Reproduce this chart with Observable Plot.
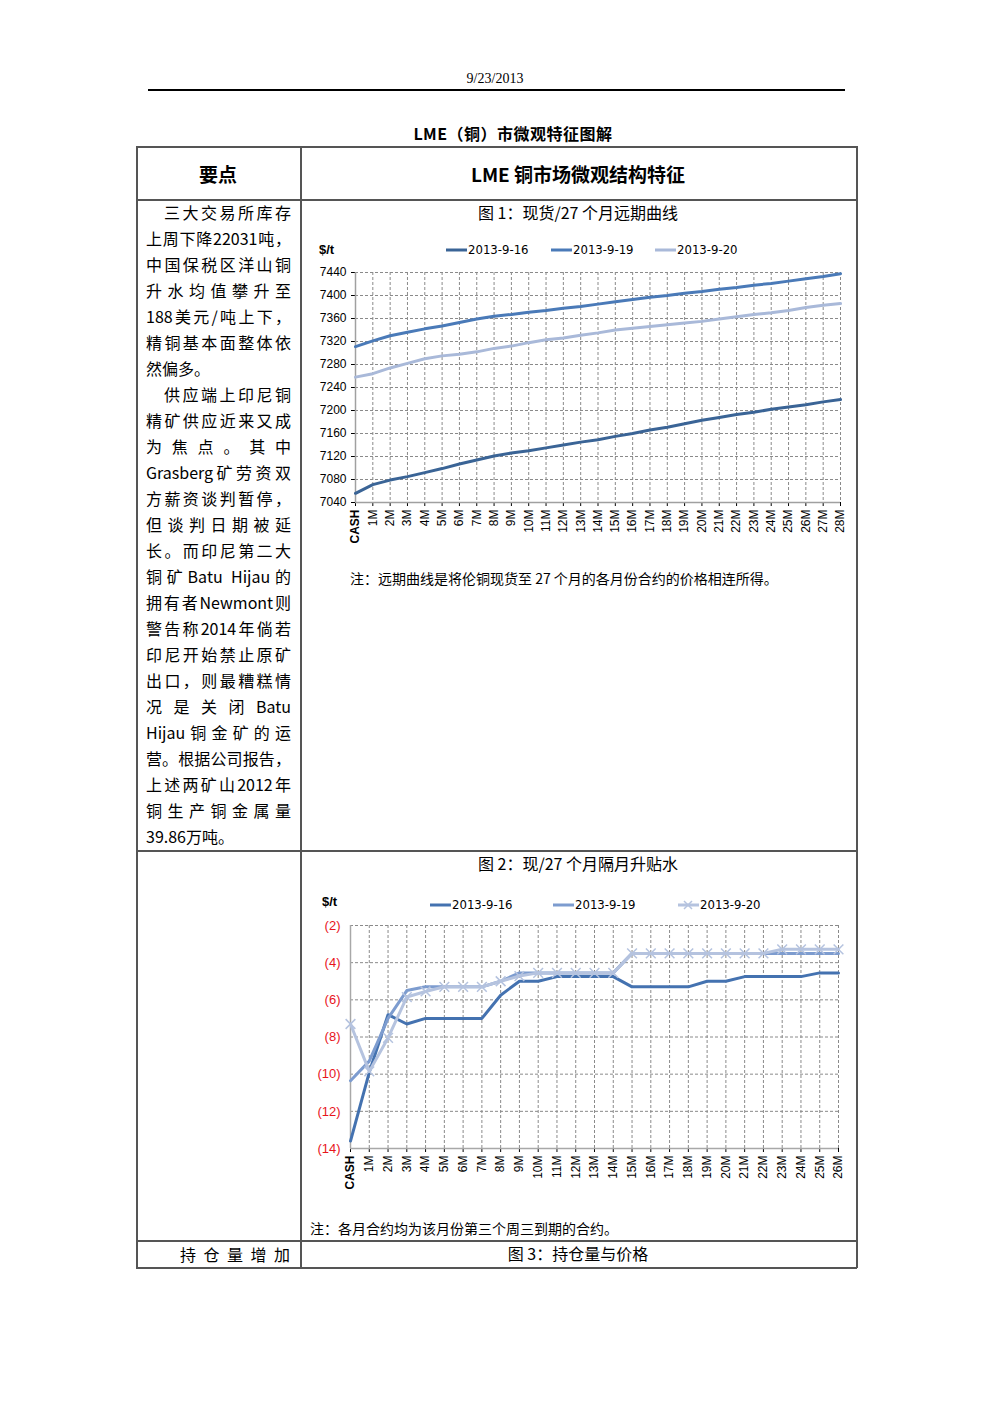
<!DOCTYPE html>
<html><head><meta charset="utf-8">
<script src="https://cdn.jsdelivr.net/npm/d3@7"></script>
<script src="https://cdn.jsdelivr.net/npm/@observablehq/plot@0.6"></script>
<style>
body{margin:0;background:#fff;font-family:"Noto Sans CJK SC","Noto Sans",sans-serif;color:#000;}
#page{position:relative;width:992px;height:1403px;overflow:hidden;background:#fff;}
.a{position:absolute;white-space:nowrap;}
.ln{position:absolute;background:#555;}
.c{transform:translate(-50%,-50%);}
.body{position:absolute;left:146px;top:199px;width:145px;font-size:16px;line-height:26px;}
.body div{text-align:justify;text-align-last:justify;white-space:nowrap;height:26px;}
.body div.l{text-align-last:left;}
.body div.ind{padding-left:18px;}
.leg{position:absolute;font-family:"Liberation Sans Narrow","DejaVu Sans Condensed","Liberation Sans",sans-serif;font-size:13px;line-height:14px;display:flex;align-items:center;}
#c2 g[aria-label^="y-axis"] text{fill:#e8141c;}
</style></head>
<body><div id="page">
<div class="a c" style="left:495px;top:79px;font-family:'Liberation Serif',serif;font-size:14px;">9/23/2013</div>
<div class="ln" style="left:148px;top:89px;width:697px;height:1.5px;background:#000;"></div>
<div class="a c" style="left:513px;top:133px;font-size:16px;font-weight:bold;letter-spacing:0.5px;">LME（铜）市微观特征图解</div>

<!-- table lines -->
<div class="ln" style="left:136px;top:146px;width:721px;height:1.5px;"></div>
<div class="ln" style="left:136px;top:199px;width:721px;height:1.5px;"></div>
<div class="ln" style="left:136px;top:850px;width:721px;height:1.5px;"></div>
<div class="ln" style="left:136px;top:1240px;width:721px;height:1.5px;"></div>
<div class="ln" style="left:136px;top:1267px;width:721px;height:1.5px;"></div>
<div class="ln" style="left:136px;top:146px;width:1.5px;height:1122px;"></div>
<div class="ln" style="left:300px;top:146px;width:1.5px;height:1122px;"></div>
<div class="ln" style="left:856px;top:146px;width:1.5px;height:1122px;"></div>

<div class="a c" style="left:218px;top:173px;font-size:19px;font-weight:bold;">要点</div>
<div class="a c" style="left:578px;top:173px;font-size:19px;font-weight:bold;">LME 铜市场微观结构特征</div>

<div class="body" id="bodytext"></div>

<div class="a c" style="left:578px;top:212px;font-size:16px;">图 1：现货/27 个月远期曲线</div>
<div class="a" style="left:319px;top:242px;font-family:'Liberation Sans',sans-serif;font-size:13px;font-weight:bold;">$/t</div>
<div id="leg1"></div>
<div id="c1" class="a" style="left:300px;top:262px;"></div>
<div class="a" style="left:350px;top:568px;font-size:14px;">注：远期曲线是将伦铜现货至 27 个月的各月份合约的价格相连所得。</div>

<div class="a c" style="left:578px;top:863px;font-size:16px;">图 2：现/27 个月隔月升贴水</div>
<div class="a" style="left:322px;top:894px;font-family:'Liberation Sans',sans-serif;font-size:13px;font-weight:bold;">$/t</div>
<div id="leg2"></div>
<div id="c2" class="a" style="left:300px;top:915px;"></div>
<div class="a" style="left:310px;top:1218px;font-size:14px;">注：各月合约均为该月份第三个周三到期的合约。</div>

<div class="a" style="left:180px;top:1243px;width:110px;font-size:16px;line-height:22px;text-align:justify;text-align-last:justify;">持仓量增加</div>
<div class="a c" style="left:578px;top:1253px;font-size:16px;">图 3：持仓量与价格</div>
</div>
<script>
// ---------- text ----------
const bodyLines = [
 ["三大交易所库存","ind"],["上周下降22031吨，",""],["中国保税区洋山铜",""],["升水均值攀升至",""],
 ["188美元/吨上下，",""],["精铜基本面整体依",""],["然偏多。","l"],
 ["供应端上印尼铜","ind"],["精矿供应近来又成",""],["为焦点。其中",""],["Grasberg矿劳资双",""],
 ["方薪资谈判暂停，",""],["但谈判日期被延",""],["长。而印尼第二大",""],["铜矿Batu Hijau的",""],
 ["拥有者Newmont则",""],["警告称2014年倘若",""],["印尼开始禁止原矿",""],["出口，则最糟糕情",""],
 ["况是关闭Batu",""],["Hijau铜金矿的运",""],["营。根据公司报告，",""],["上述两矿山2012年",""],
 ["铜生产铜金属量",""],["39.86万吨。","l"]
];
const bt = document.getElementById("bodytext");
bodyLines.forEach(([t,c])=>{const d=document.createElement("div");d.textContent=t;if(c)d.className=c;
  if(t==="为焦点。其中"||t==="况是关闭Batu"){d.style.whiteSpace="normal";d.style.wordBreak="break-all";}
  bt.appendChild(d);});

// ---------- data ----------
const series = ["2013-9-16","2013-9-19","2013-9-20"];
const months1 = ["CASH","1M","2M","3M","4M","5M","6M","7M","8M","9M","10M","11M","12M","13M","14M","15M","16M","17M","18M","19M","20M","21M","22M","23M","24M","25M","26M","27M","28M"];
const curve0916 = [7056,7071,7079,7085,7092,7099,7107,7114,7121,7126,7130,7135,7140,7145,7149,7155,7160,7166,7171,7177,7183,7188,7193,7197,7202,7206,7210,7215,7219];
const curve0919 = [7311,7321,7330,7336,7342,7347,7353,7359,7364,7367,7371,7374,7378,7381,7385,7389,7393,7397,7400,7404,7407,7411,7414,7418,7421,7425,7429,7433,7438];
const curve0920 = [7258,7264,7274,7282,7290,7295,7298,7302,7308,7312,7318,7323,7326,7331,7335,7340,7343,7346,7349,7352,7355,7359,7363,7367,7370,7374,7379,7383,7386];
const yTicks1 = [7040,7080,7120,7160,7200,7240,7280,7320,7360,7400,7440];

const months2 = ["CASH","1M","2M","3M","4M","5M","6M","7M","8M","9M","10M","11M","12M","13M","14M","15M","16M","17M","18M","19M","20M","21M","22M","23M","24M","25M","26M"];
const spread0916 = [-13.6,-9.9,-6.8,-7.3,-7.0,-7.0,-7.0,-7.0,-5.75,-5.0,-5.0,-4.75,-4.75,-4.75,-4.75,-5.3,-5.3,-5.3,-5.3,-5.0,-5.0,-4.75,-4.75,-4.75,-4.75,-4.55,-4.55];
const spread0919 = [-10.35,-9.3,-7.0,-5.5,-5.3,-5.3,-5.3,-5.3,-5.0,-4.55,-4.55,-4.55,-4.55,-4.55,-4.55,-3.5,-3.5,-3.5,-3.5,-3.5,-3.5,-3.5,-3.5,-3.5,-3.5,-3.5,-3.5];
const spread0920 = [-7.3,-9.85,-8.05,-5.85,-5.55,-5.3,-5.3,-5.3,-5.0,-4.72,-4.55,-4.55,-4.55,-4.55,-4.55,-3.5,-3.5,-3.5,-3.5,-3.5,-3.5,-3.5,-3.5,-3.28,-3.28,-3.28,-3.28];
const yTicks2 = [-2,-4,-6,-8,-10,-12,-14];

const colors1 = ["#3a6496","#4a7ab8","#a9b9d9"];
const colors2 = ["#4472b0","#7d9ccf","#b5c3df"];

function build(arrs){return arrs.flatMap((a,k)=>a.map((v,i)=>({i,v,s:series[k]})));}
const data1 = build([curve0916,curve0919,curve0920]);
const data2 = build([spread0916,spread0919,spread0920]);
const idx1 = months1.map((_,i)=>i);
const idx2 = months2.map((_,i)=>i);

const grid = {stroke:"#8a8a8a", strokeDasharray:"3,2", strokeWidth:1};
const font = "'Liberation Sans',Arial,sans-serif";

const c1 = Plot.plot({
  width:550, height:290, marginLeft:55, marginRight:10, marginTop:10, marginBottom:50,
  style:{fontSize:"12px", fontFamily:font, color:"#000", background:"transparent", overflow:"visible"},
  x:{type:"linear", domain:[0, months1.length-1], ticks:idx1, tickFormat:i=>months1[i], tickRotate:-90, tickSize:4, tickPadding:3, label:null},
  y:{domain:[7040,7440], ticks:yTicks1, tickSize:4, tickPadding:5, label:null, tickFormat:d=>String(d)},
  color:{domain:series, range:colors1},
  marks:[
    Plot.ruleY(yTicks1.slice(1), grid),
    Plot.ruleX(idx1.slice(1), grid),
    Plot.ruleX([0], {stroke:"#a0a0a0", strokeWidth:1.5}),
    Plot.ruleY([7040], {stroke:"#a0a0a0", strokeWidth:1.5}),
    Plot.line(data1, {x:"i", y:"v", z:"s", stroke:"s", strokeWidth:3, strokeLinejoin:"round"})
  ]
});
document.getElementById("c1").appendChild(c1);

const c2 = Plot.plot({
  width:550, height:285, marginLeft:50, marginRight:12, marginTop:10, marginBottom:52,
  style:{fontSize:"12px", fontFamily:font, color:"#000", background:"transparent", overflow:"visible"},
  x:{type:"linear", domain:[0, months2.length-1], ticks:idx2, tickFormat:i=>months2[i], tickRotate:-90, tickSize:4, tickPadding:3, label:null},
  y:{domain:[-14,-2], ticks:yTicks2, tickSize:0, tickPadding:10, label:null, tickFormat:d=>`(${Math.abs(d)})`},
  color:{domain:series, range:colors2},
  marks:[
    Plot.ruleY(yTicks2.slice(0,-1), grid),
    Plot.ruleX(idx2.slice(1), grid),
    Plot.ruleX([0], {stroke:"#a8a8a8", strokeWidth:1.5}),
    Plot.ruleY([-14], {stroke:"#a8a8a8", strokeWidth:1.5}),
    Plot.line(data2, {x:"i", y:"v", z:"s", stroke:"s", strokeWidth:3, strokeLinejoin:"round"}),
    Plot.dot(data2.filter(d=>d.s===series[2]), {x:"i", y:"v", symbol:"times", r:4.5, stroke:colors2[2], strokeWidth:1.5})
  ]
});
document.getElementById("c2").appendChild(c2);
[c1,c2].forEach(svg=>{
  d3.select(svg).selectAll('g[aria-label^="x-axis"] text').each(function(){ if(this.textContent==="CASH") d3.select(this).attr("font-weight","bold"); });
  d3.select(svg).selectAll('g[aria-label^="y-axis"] text').style("font-size", svg===c2?"13px":"12px");
});

// legends
function legend(id, top, items, colors, marker){
  const box = document.getElementById(id);
  items.forEach(([x, label], k)=>{
    const d = document.createElement("div");
    d.className="leg"; d.style.left=x+"px"; d.style.top=(top-7)+"px";
    const mk = (marker && k===2) ? `<path d="M6,3 L14,11 M14,3 L6,11" stroke="${colors[k]}" stroke-width="1.5"/>` : "";
    d.innerHTML = `<svg width="22" height="14"><line x1="0" x2="21" y1="7" y2="7" stroke="${colors[k]}" stroke-width="3"/>${mk}</svg><span>${label}</span>`;
    box.appendChild(d);
  });
}
legend("leg1", 250, [[446,series[0]],[551,series[1]],[655,series[2]]], colors1, false);
legend("leg2", 905, [[430,series[0]],[553,series[1]],[678,series[2]]], colors2, true);
</script>
</body></html>
